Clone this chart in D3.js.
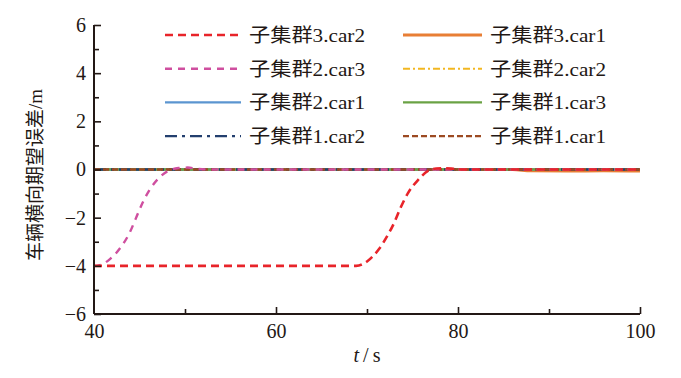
<!DOCTYPE html>
<html>
<head>
<meta charset="utf-8">
<script src="https://cdn.jsdelivr.net/npm/d3@7"></script>
<style>
  body { margin: 0; background: #fff; }
  text { font-family: "Liberation Serif", "Noto Sans CJK SC", serif; fill: #231815; }
</style>
</head>
<body>
<svg id="chart" width="681" height="378"></svg>
<script>
var xTicks = [40, 60, 80, 100];
var yTicks = [-6, -4, -2, 0, 2, 4, 6];

// time samples for the two moving cars
var tCar23 = [40, 40.3, 41.75, 43.0, 43.9, 44.6, 45.3, 46.1, 47.2, 48.3, 49.3, 50.3, 51.5, 53, 60, 70, 80, 90, 100];
var vCar23 = [-4, -4, -3.72, -3.2, -2.64, -2.03, -1.41, -0.85, -0.33, -0.03, 0.06, 0.08, 0.02, 0, 0, 0, 0, 0, 0];
var tCar32 = [40, 50, 60, 68.8, 70.1, 71.3, 72.2, 73.0, 73.7, 74.5, 75.6, 76.7, 77.6, 78.5, 79.5, 80.5, 90, 100];
var vCar32 = [-4, -4, -4, -4, -3.79, -3.31, -2.78, -2.2, -1.58, -0.98, -0.44, -0.06, 0.04, 0.05, 0.03, 0, 0, 0];
var tFlat = [40, 100];
var vFlat = [0, 0];
var tCar31 = [40, 86, 88, 92, 96, 100];
var vCar31 = [0, 0, -0.05, -0.06, -0.05, -0.06];

var series = [
  { name: '子集群3.car2', t: tCar32, v: vCar32, color: '#e8242a', width: 2.6, dash: '8,5' },
  { name: '子集群3.car1', t: tCar31, v: vCar31, color: '#e87e35', width: 3.2, dash: null },
  { name: '子集群2.car3', t: tCar23, v: vCar23, color: '#cf4f9f', width: 2.4, dash: '7,6' },
  { name: '子集群2.car2', t: tFlat, v: vFlat, color: '#f2b721', width: 2, dash: '7,3,2,3' },
  { name: '子集群2.car1', t: tFlat, v: vFlat, color: '#5b95d0', width: 2.4, dash: null },
  { name: '子集群1.car3', t: tFlat, v: vFlat, color: '#6aa244', width: 2.4, dash: null },
  { name: '子集群1.car2', t: tFlat, v: vFlat, color: '#233f6e', width: 2.4, dash: '12,5,3,5' },
  { name: '子集群1.car1', t: tFlat, v: vFlat, color: '#9c4a22', width: 2.4, dash: '6,3' }
];
var drawOrder = [1, 3, 4, 5, 6, 7, 2, 0];

var svg = d3.select('#chart');
var x = d3.scaleLinear().domain([40, 100]).range([94, 640]);
var y = d3.scaleLinear().domain([-6, 6]).range([314, 25]);
var axisColor = '#231815';

var line = d3.line()
  .x(function(d){ return x(d[0]); })
  .y(function(d){ return y(d[1]); })
  .curve(d3.curveMonotoneX);

var plot = svg.append('g');
drawOrder.forEach(function(i){
  var s = series[i];
  plot.append('path')
    .datum(d3.zip(s.t, s.v))
    .attr('d', line)
    .attr('fill', 'none')
    .attr('stroke', s.color)
    .attr('stroke-width', s.width)
    .attr('stroke-dasharray', s.dash);
});

// axes with inward ticks
var xAxis = svg.append('g').attr('transform', 'translate(0,314)')
  .call(d3.axisBottom(x).tickValues(d3.range(40, 101, 10)).tickSize(-6)
    .tickFormat(function(d){ return xTicks.indexOf(d) >= 0 ? d : ''; }).tickPadding(10));
xAxis.selectAll('.tick line').attr('y2', function(d){ return d % 20 === 0 ? -7 : -5; });

var yAxis = svg.append('g').attr('transform', 'translate(94,0)')
  .call(d3.axisLeft(y).tickValues(d3.range(-6, 7, 1)).tickSize(-6)
    .tickFormat(function(d){ return yTicks.indexOf(d) >= 0 ? d3.format('')(d).replace('-', '\u2212') : ''; }).tickPadding(8));
yAxis.selectAll('.tick line').attr('x2', function(d){ return d % 2 === 0 ? 7 : 5; });

[xAxis, yAxis].forEach(function(g){
  g.select('.domain').attr('stroke', axisColor).attr('stroke-width', 2);
  g.selectAll('.tick line').attr('stroke', axisColor).attr('stroke-width', 1.6);
  g.selectAll('.tick text').attr('font-size', 20).attr('font-family', 'Liberation Serif').attr('fill', axisColor);
});
xAxis.select('.domain').attr('d', 'M94,0H640');
yAxis.select('.domain').attr('d', 'M0,25V314');
xAxis.selectAll('.tick line').filter(function(d){ return d === 40; }).remove();

// axis titles
svg.append('text')
  .attr('transform', 'translate(42,175) rotate(-90)')
  .attr('text-anchor', 'middle')
  .attr('font-size', 19)
  .text('车辆横向期望误差/m');

var xt = svg.append('text').attr('x', 367).attr('y', 362).attr('text-anchor', 'middle').attr('font-size', 20);
xt.append('tspan').attr('font-style', 'italic').text('t');
xt.append('tspan').text('\u2009/\u2009s');

// legend, two columns
var legend = svg.append('g');
series.forEach(function(s, i){
  var col = i % 2, row = Math.floor(i / 2);
  var lx = col === 0 ? 165 : 403;
  var ly = 35 + row * 33.7;
  var g = legend.append('g').attr('transform', 'translate(' + lx + ',' + ly + ')');
  g.append('line')
    .attr('x1', 0).attr('x2', col === 0 ? 76 : 79)
    .attr('stroke', s.color)
    .attr('stroke-width', s.width)
    .attr('stroke-dasharray', s.dash);
  g.append('text')
    .attr('x', col === 0 ? 84 : 87)
    .attr('y', 7)
    .attr('font-size', 19)
    .attr('textLength', 116)
    .attr('lengthAdjust', 'spacingAndGlyphs')
    .text(s.name);
});
</script>
</body>
</html>
